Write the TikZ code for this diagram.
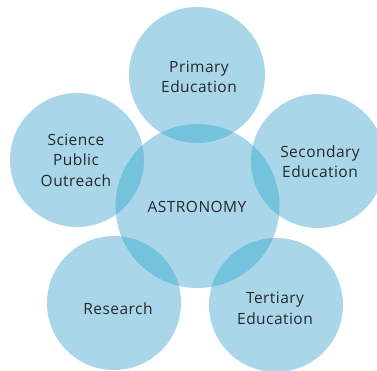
\documentclass[tikz,border=0pt]{standalone}
\usepackage{fontspec}
\setmainfont[LetterSpace=3]{Open Sans}
\definecolor{circlight}{HTML}{A9D6E8}
\definecolor{circdark}{HTML}{74C3DD}
\definecolor{txt}{HTML}{26292C}
\begin{document}
\begin{tikzpicture}[x=1pt,y=-1pt,
  bubble/.style={circle, fill=circlight, inner sep=0pt, minimum size=#1},
  lbl/.style={text=txt, font=\fontsize{15.5}{20.5}\selectfont, align=center, inner sep=0pt}]
\useasboundingbox (0,0) rectangle (377,371);
% outer circles
\node[bubble=136] (top) at (197,75) {};
\node[bubble=134] (left) at (77,160) {};
\node[bubble=134] (right) at (318,161) {};
\node[bubble=134] (bl) at (114,303) {};
\node[bubble=134] (br) at (276,305) {};
% central
\node[bubble=164] (center) at (197.5,206) {};
% overlaps
\begin{scope}
\clip (197.5,206) circle (82);
\fill[circdark] (197,75) circle (68);
\fill[circdark] (77,160) circle (67);
\fill[circdark] (318,161) circle (67);
\fill[circdark] (114,303) circle (67);
\fill[circdark] (276,305) circle (67);
\end{scope}
% labels
\node[lbl] (ltop) at (199,77) {Primary\\Education};
\node[lbl] (lleft) at (76,160) {Science\\Public\\Outreach};
\node[lbl] (lright) at (320,161.5) {Secondary\\Education};
\node[lbl] (lcenter) at (197,207) {ASTRONOMY};
\node[lbl] (lbl) at (118,309) {Research};
\node[lbl] (lbr) at (275,308.5) {Tertiary\\Education};
\end{tikzpicture}
\end{document}
